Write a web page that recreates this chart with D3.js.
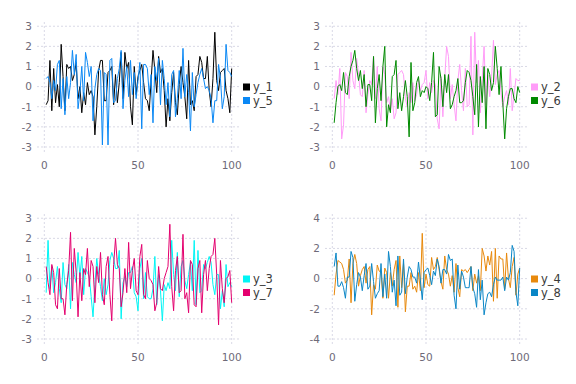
<!DOCTYPE html>
<html>
<head>
<meta charset="utf-8">
<script src="https://cdn.jsdelivr.net/npm/d3@7"></script>
<style>
  body { margin: 0; background: #fff; }
  text { font-family: "DejaVu Sans", sans-serif; }
</style>
</head>
<body>
<div id="chart"></div>
<script>
// series values, index 1..100
let y1 = [-0.9, -0.7, 1.3, -1.2, 0.9, -0.8, 0.1, -1.0, 2.1, 0.5,
  -1.2, 1.1, 0.9, 1.0, 0.3, 0.6, 1.2, -0.6, 0.0, -1.3,
  -0.3, -0.9, 0.2, -0.4, -0.2, -0.5, -2.4, -1.0, 0.8, 1.3,
  1.3, -0.7, -0.7, 0.7, 0.8, 1.0, -0.9, 0.6, -0.8, 0.2,
  1.7, -0.6, 1.7, 0.9, 1.2, -1.0, -1.9, 1.0, -0.4, 0.5,
  0.8, 1.1, 0.2, -0.6, -0.7, -1.2, 0.3, 1.8, 0.8, -0.3,
  1.5, 0.7, 0.9, -0.2, -2.0, -0.6, -1.7, -0.3, 0.7, -0.8,
  -1.4, 0.1, 1.0, 0.2, -0.5, -1.6, 1.3, -0.9, -0.7, -1.2,
  0.5, 0.6, 1.5, 1.2, 0.4, 0.4, 1.5, -0.2, -1.0, 0.4,
  2.7, 0.3, -0.2, 0.7, 0.8, 0.9, -0.2, -0.6, -1.3, 0.9]
let y5 = [0.4, 0.5, 0.2, -0.6, 0.3, -0.2, 1.1, 1.3, -1.1, 0.4,
  -1.4, 0.5, -0.6, 0.2, 1.8, 0.6, 1.6, -1.1, -0.3, 1.0,
  -0.7, 1.7, 1.2, 0.5, 1.0, -1.7, -0.1, 0.6, 0.9, 0.8,
  -2.9, 0.7, 0.6, -2.9, 1.3, 1.4, -0.8, -0.7, 0.4, 0.9,
  1.8, -1.1, 0.3, 1.0, -0.5, 1.3, -0.4, 0.7, -0.6, 0.3,
  1.2, -2.1, 1.1, 1.1, 0.9, -0.4, 0.6, -1.8, 1.0, 0.3,
  1.4, -0.9, 1.3, 0.4, -0.9, 0.2, -1.5, 0.6, 0.8, -1.5,
  -0.6, 0.8, -0.6, 1.9, -0.5, 0.6, -0.3, -2.2, 0.7, -1.0,
  -0.4, 0.2, 0.6, 0.9, 0.4, -0.1, 0.0, -0.2, -0.6, -1.8,
  -0.7, -0.7, 1.1, 0.4, -1.1, -0.5, 2.1, 0.8, 0.7, 0.5]
let y2 = [-0.6, 0.3, -0.4, 0.9, -2.6, -1.9, 0.7, 0.5, -0.6, 1.7,
  0.3, -0.1, 1.4, 0.6, -0.4, -0.5, 0.8, -1.3, -0.4, 0.3,
  0.1, 1.5, -0.6, 1.0, -1.1, -1.7, 1.0, 0.6, -0.8, -0.5,
  -1.2, -0.6, -1.6, -1.3, 0.6, 0.7, 0.8, 0.6, -0.6, -1.0,
  -0.3, -0.8, 0.2, -0.7, -0.4, 0.3, -0.2, 0.1, 0.2, 0.8,
  -0.6, 0.2, -0.3, 0.3, 0.1, -1.6, -2.1, 0.5, -1.5, 0.4,
  2.0, 1.5, -0.6, 0.1, -0.9, -1.7, 0.3, 1.1, -0.2, -1.2,
  0.9, -1.0, -0.9, 2.5, -2.4, 2.7, 0.2, 1.3, -1.3, 0.4,
  2.0, -0.9, 0.6, -0.5, 0.5, 2.3, 0.1, 0.6, 0.8, -0.3,
  -1.0, -0.5, -0.2, -0.9, 0.9, -1.2, -0.4, 0.4, 0.3, 0.3]
let y6 = [-1.8, -0.8, 0.0, 0.1, -0.2, 0.7, -0.3, -0.4, 0.5, 1.0,
  1.3, 1.8, 0.9, 0.3, 0.8, -0.1, 0.6, -1.0, 0.1, 0.1,
  -0.7, 1.5, -1.8, -0.1, 0.6, -0.7, 1.0, 2.0, -2.0, -0.9,
  -1.3, 0.5, 0.6, 1.3, -1.1, -0.3, -1.2, -0.5, 0.3, -0.5,
  -2.5, 1.2, -1.2, -0.8, 0.2, 0.5, -0.5, -0.2, -0.3, 0.0,
  -0.1, -0.7, 0.2, 1.7, -1.5, -1.4, 1.0, 0.4, -1.0, 0.6,
  -0.3, 0.6, -1.1, -0.9, -0.5, -0.2, 0.4, -0.8, -0.8, -0.7,
  0.2, 0.8, 0.7, 0.3, -0.5, -1.4, 1.1, -2.0, 0.5, -0.8,
  1.0, -2.1, 0.9, 0.6, -0.2, 0.2, 2.0, 0.9, -0.4, 1.0,
  -0.8, -2.6, -1.1, -0.5, -0.1, -0.1, -0.6, -0.8, 0.0, -0.3]
let y3 = [-0.7, 1.9, -0.5, 0.6, -0.7, -0.2, 0.6, -0.5, -1.2, 0.8,
  -0.3, -0.5, 0.7, -1.5, 0.8, 0.2, -0.2, 1.3, 0.1, 1.1,
  -0.8, 0.5, 0.3, 0.1, -0.9, -1.9, -0.3, 1.0, 0.2, -0.4,
  -1.1, 0.0, -0.8, -0.3, 0.9, 1.3, 1.0, 0.5, 0.5, 1.4,
  -2.0, -0.2, 0.1, -0.4, 0.3, 0.3, 0.6, -0.7, -0.9, -1.6,
  0.5, 1.0, -1.0, 0.3, -0.9, -1.0, -1.0, -0.5, 1.1, -1.3,
  0.2, -0.6, -2.1, -0.3, -0.6, -0.2, -0.5, 1.9, 0.2, -0.6,
  1.3, -0.9, 0.6, 0.9, -0.1, -0.5, 0.2, 0.8, -0.6, 1.9,
  -1.3, 1.4, -0.7, -0.6, 0.7, 0.5, 0.8, 1.1, 0.8, -0.3,
  -0.8, 0.2, 0.2, -1.5, -0.6, -1.4, 0.7, -0.4, -0.2, -0.4]
let y7 = [0.6, -0.2, -0.8, 0.7, 0.3, -1.3, -1.5, 0.5, -1.0, -1.0,
  -1.8, -0.3, 0.4, 2.3, -1.1, 1.5, 0.3, -1.9, 0.3, -1.1,
  0.5, 0.2, 1.5, -0.4, 0.9, 0.6, -1.2, 0.6, -0.2, 1.3,
  -0.8, -1.3, 0.6, 1.1, -0.8, -2.1, 0.7, 2.0, 0.7, 0.5,
  -1.4, -0.7, 0.5, -0.7, 1.8, -0.5, 0.4, 1.0, -0.6, -0.8,
  1.1, 1.7, -0.8, -1.0, 0.9, 0.0, -0.1, -0.3, -1.6, -1.2,
  0.6, -0.5, -0.6, 0.0, 0.3, 0.6, 2.7, -0.4, -1.6, 0.4,
  1.1, -0.7, -0.6, 2.2, -1.0, -0.7, -1.7, 0.9, 0.7, -1.3,
  -1.4, 0.5, 0.9, -1.7, 0.2, 0.9, -0.6, 0.5, 1.1, 1.2,
  2.0, 0.2, -2.3, 0.9, -0.5, -1.2, 0.0, 0.1, 0.4, -1.2]
let y4 = [-1.1, 0.3, 1.2, 1.1, 1.0, 0.6, -0.3, -0.1, 1.3, -1.6,
  1.0, 1.6, 1.0, -0.5, 0.2, 0.6, 0.8, -0.3, 0.6, 0.8,
  -2.4, -0.4, -0.7, 0.9, 0.5, 0.4, -1.3, 0.7, 0.4, -1.3,
  0.4, -0.5, 0.6, 1.2, -1.9, 1.5, -0.6, 1.0, -2.2, -0.5,
  -0.5, 0.4, -0.7, -0.5, -0.9, 0.4, -0.8, 3.0, -0.6, 0.3,
  -0.4, -0.5, 1.4, 0.6, 0.8, 1.4, 0.6, -0.2, -0.7, 1.5,
  0.6, 0.3, -0.5, 0.2, -0.9, 1.0, -0.6, -1.2, 0.6, 0.5,
  0.6, 0.4, 0.6, 0.8, -0.8, 0.3, -0.3, 0.2, -0.8, 2.0,
  1.5, 0.5, 1.5, 0.9, 1.8, -1.5, 2.0, -1.3, 1.5, 1.3,
  1.3, -0.7, 1.7, 0.0, -0.6, 0.8, 1.4, -1.1, 0.3, 0.7]
let y8 = [0.8, 1.7, -0.5, -0.5, -0.2, -0.6, -1.3, 0.1, 0.1, 1.8,
  1.4, -1.5, -0.4, 0.4, 0.1, -0.8, 0.2, 1.0, -0.7, -0.5,
  1.0, -0.2, -1.3, -1.0, -0.8, 1.0, -1.2, 0.3, -1.3, 1.8,
  0.8, -0.9, -0.1, -1.8, 1.5, -1.1, -0.9, 1.3, -1.0, 0.1,
  0.8, 0.6, 0.1, 0.1, -0.3, 1.1, -0.1, -1.4, 0.4, 0.6,
  0.7, 0.2, -0.4, 0.5, 0.2, 1.3, 0.8, -0.3, 0.6, 0.6,
  0.3, 1.6, 1.2, 1.3, -1.1, -2.0, 0.9, -0.7, 0.5, 0.1,
  -0.6, -0.6, -0.6, 0.8, -0.6, -1.0, -1.9, 0.6, -1.4, -0.1,
  -2.4, -1.6, -1.0, -0.9, -1.2, -0.4, 0.1, -0.1, -0.1, -0.1,
  0.1, -0.8, 0.1, -0.1, 0.4, 2.2, 1.8, -0.9, -1.8, 0.7]

let xTicks = [0, 50, 100]
let yTicks3 = [-3, -2, -1, 0, 1, 2, 3]
let yTicks4 = [-4, -2, 0, 2, 4]

let panels = [
  { names: ['y_1', 'y_5'], series: [y1, y5], colors: ['#000000', '#0a88f5'], yDomain: [-3.25, 3.21], yTicks: yTicks3 },
  { names: ['y_2', 'y_6'], series: [y2, y6], colors: ['#ff9cf8', '#008a00'], yDomain: [-3.25, 3.21], yTicks: yTicks3 },
  { names: ['y_3', 'y_7'], series: [y3, y7], colors: ['#00f5f5', '#e4006e'], yDomain: [-3.25, 3.21], yTicks: yTicks3 },
  { names: ['y_4', 'y_8'], series: [y4, y8], colors: ['#e8890c', '#0a86c6'], yDomain: [-4.33, 4.28], yTicks: yTicks4 }
]

let svg = d3.select('#chart').append('svg')
    .attr('width', 576)
    .attr('height', 384)

panels.forEach(function (p, i) {
    let ox = (i % 2) * 288
    let oy = Math.floor(i / 2) * 192
    let g = svg.append('g').attr('transform', 'translate(' + ox + ',' + oy + ')')

    let x = d3.scaleLinear().domain([-3.9, 103.9]).range([37, 239])
    let y = d3.scaleLinear().domain(p.yDomain).range([152, 22])

    // grid
    g.selectAll('.vgrid').data(xTicks).enter().append('line')
        .attr('x1', d => x(d)).attr('x2', d => x(d))
        .attr('y1', 22).attr('y2', 154)
        .attr('stroke', '#d9d9e6').attr('stroke-width', 1).attr('stroke-dasharray', '2,2')
    g.selectAll('.hgrid').data(p.yTicks).enter().append('line')
        .attr('x1', 37).attr('x2', 239)
        .attr('y1', d => y(d)).attr('y2', d => y(d))
        .attr('stroke', '#d9d9e6').attr('stroke-width', 1).attr('stroke-dasharray', '2,2')

    // tick labels
    g.selectAll('.xl').data(xTicks).enter().append('text')
        .attr('x', d => x(d)).attr('y', 169)
        .attr('text-anchor', 'middle')
        .attr('font-size', 10.5).attr('fill', '#6e6a78')
        .text(d => d)
    g.selectAll('.yl').data(p.yTicks).enter().append('text')
        .attr('x', 32).attr('y', d => y(d) + 3.8)
        .attr('text-anchor', 'end')
        .attr('font-size', 10.5).attr('fill', '#6e6a78')
        .text(d => d)

    // lines
    let line = d3.line()
        .x((d, j) => x(j + 1))
        .y(d => y(d))
    p.series.forEach(function (s, k) {
        g.append('path')
            .datum(s)
            .attr('d', line)
            .attr('fill', 'none')
            .attr('stroke', p.colors[k])
            .attr('stroke-width', 1)
            .attr('stroke-linejoin', 'round')
    })

    // legend
    p.names.forEach(function (n, k) {
        let ly = 87 + k * 13.5
        g.append('rect')
            .attr('x', 243).attr('y', ly - 3.5)
            .attr('width', 7).attr('height', 7)
            .attr('fill', p.colors[k])
        g.append('text')
            .attr('x', 253).attr('y', ly + 4)
            .attr('font-size', 11.5).attr('fill', '#3a3a3a')
            .text(n)
    })
})
</script>
</body>
</html>
